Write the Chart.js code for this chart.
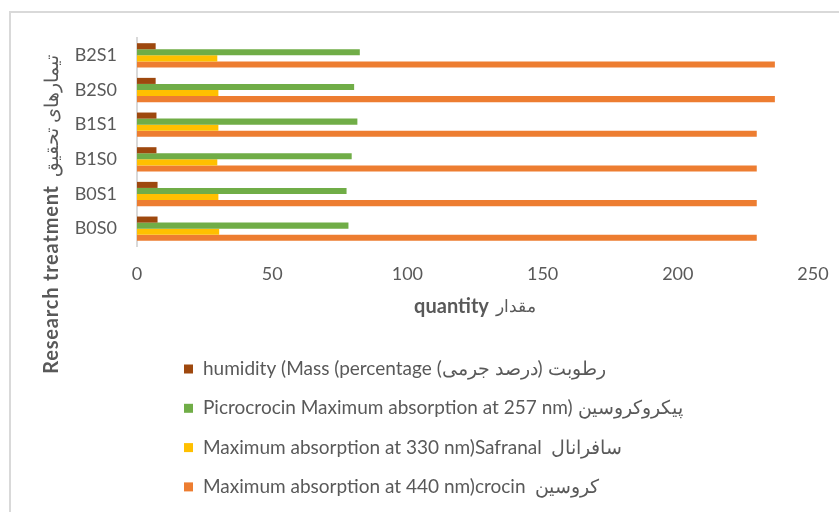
<!DOCTYPE html>
<html>
<head>
<meta charset="utf-8">
<script src="https://cdn.jsdelivr.net/npm/chart.js@4.4.1/dist/chart.umd.min.js"></script>
<style>
  body { margin: 0; background: #fff; }
  canvas { display: block; }
</style>
</head>
<body>
<canvas id="chart" width="839" height="512"></canvas>
<script>
// top to bottom, as in the picture
var treatments = ['B2S1', 'B2S0', 'B1S1', 'B1S0', 'B0S1', 'B0S0'];
var humidity = [6.9, 6.9, 7.2, 7.2, 7.6, 7.6];
var picrocrocin = [82.4, 80.3, 81.5, 79.4, 77.5, 78.2];
var safranal = [29.7, 30.1, 30.1, 29.7, 30.1, 30.4];
var crocin = [235.9, 235.9, 229.2, 229.2, 229.2, 229.2];
var seriesNames = [
    'humidity (Mass (percentage رطوبت (درصد جرمی)',
    'Picrocrocin Maximum absorption at 257 nm) پیکروکروسین',
    'Maximum absorption at 330 nm)Safranal  سافرانال',
    'Maximum absorption at 440 nm)crocin  کروسین'
];
var xMin = 0, xMax = 250, xStep = 50;

var grey = '#595959';
var font = 'Lato, "Noto Sans", sans-serif';

var extras = {
    id: 'extras',
    beforeDraw: function(chart) {
        var ctx = chart.ctx;
        ctx.save();
        ctx.strokeStyle = '#d9d9d9';
        ctx.lineWidth = 2;
        ctx.strokeRect(10, 12, 900, 600);
        ctx.restore();
    },
    afterDraw: function(chart) {
        var ctx = chart.ctx;
        ctx.save();
        ctx.fillStyle = grey;
        ctx.textBaseline = 'middle';

        // y axis title (english part bold)
        ctx.save();
        ctx.translate(52, 214.5);
        ctx.rotate(-Math.PI / 2);
        ctx.textAlign = 'left';
        ctx.font = 'bold 20px ' + font;
        ctx.letterSpacing = '0.8px';
        var w1 = ctx.measureText('Research treatment').width;
        ctx.letterSpacing = '0px';
        ctx.font = '19px ' + font;
        var w2 = ctx.measureText('تیمارهای تحقیق').width;
        var total = w1 + 8 + w2;
        ctx.font = 'bold 20px ' + font;
        ctx.letterSpacing = '0.8px';
        ctx.fillText('Research treatment', -total / 2, 0);
        ctx.letterSpacing = '0px';
        ctx.font = '19px ' + font;
        ctx.fillText('تیمارهای تحقیق', -total / 2 + w1 + 8, 0);
        ctx.restore();

        // x axis title
        ctx.font = 'bold 20px ' + font;
        var q1 = ctx.measureText('quantity').width;
        ctx.font = '17px ' + font;
        var q2 = ctx.measureText('مقدار').width;
        var qx = 475 - (q1 + 7 + q2) / 2;
        ctx.textAlign = 'left';
        ctx.font = 'bold 20px ' + font;
        ctx.fillText('quantity', qx, 307);
        ctx.font = '17px ' + font;
        ctx.fillText('مقدار', qx + q1 + 7, 307);

        // legend, one entry per row
        ctx.font = '19px ' + font;
        chart.data.datasets.forEach(function(ds, i) {
            var y = 369 + i * 39.3;
            ctx.fillStyle = ds.backgroundColor;
            ctx.fillRect(184, y - 4.5, 9, 9);
            ctx.fillStyle = grey;
            ctx.fillText(ds.label, 203, y);
        });
        ctx.restore();
    }
};

var ctx = document.getElementById('chart').getContext('2d');
var myChart = new Chart(ctx, {
    type: 'bar',
    data: {
        labels: treatments,
        datasets: [
            { label: seriesNames[0], data: humidity, backgroundColor: '#9E480E' },
            { label: seriesNames[1], data: picrocrocin, backgroundColor: '#70AD47' },
            { label: seriesNames[2], data: safranal, backgroundColor: '#FFC000' },
            { label: seriesNames[3], data: crocin, backgroundColor: '#ED7D31' }
        ]
    },
    options: {
        indexAxis: 'y',
        responsive: false,
        animation: false,
        datasets: {
            bar: { categoryPercentage: 0.7, barPercentage: 1, borderWidth: 0 }
        },
        layout: { padding: { left: 0, top: 38, right: 26, bottom: 226 } },
        scales: {
            x: {
                min: xMin,
                max: xMax,
                ticks: { stepSize: xStep, color: grey, font: { size: 18, family: font }, padding: 17 },
                grid: { display: false, drawTicks: false },
                border: { display: false },
                afterFit: function(s) {
                    s.height = 40;
                    s.paddingLeft = 0;
                    s.paddingRight = 0;
                }
            },
            y: {
                ticks: { color: grey, font: { size: 18, family: font }, padding: 20 },
                grid: { display: false, drawTicks: false },
                border: { display: true, color: '#d9d9d9', width: 2 },
                afterFit: function(s) { s.width = 137; }
            }
        },
        plugins: {
            legend: { display: false },
            tooltip: { enabled: false }
        }
    },
    plugins: [extras]
});
</script>
</body>
</html>
